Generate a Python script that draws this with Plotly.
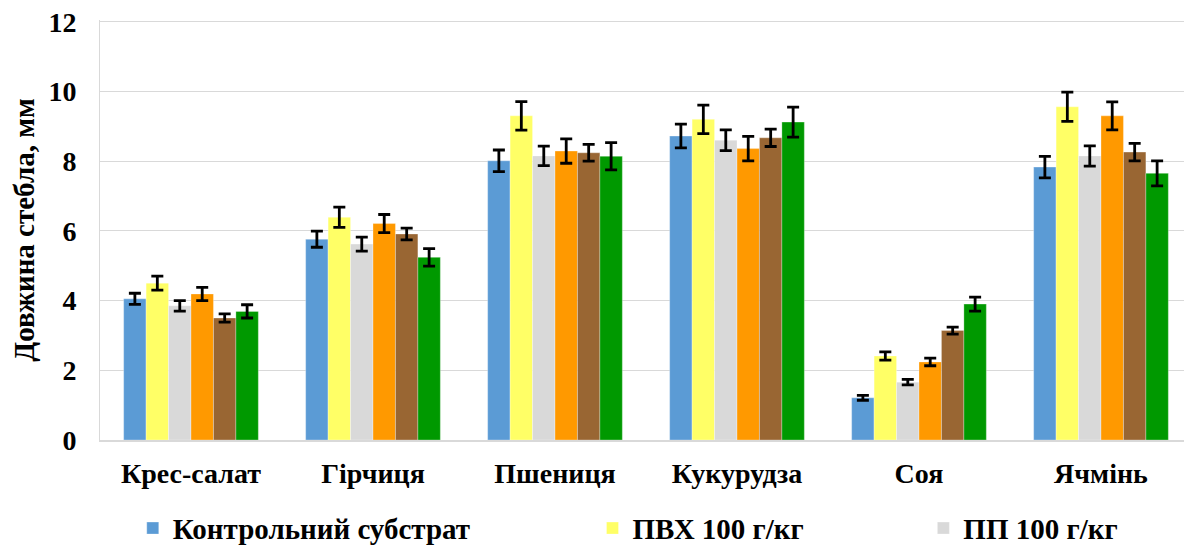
import plotly.graph_objects as go

categories = ["Крес-салат", "Гірчиця", "Пшениця", "Кукурудза", "Соя", "Ячмінь"]
series_names = ["Контрольний субстрат", "ПВХ 100 г/кг", "ПП 100 г/кг",
                "Серія 4", "Серія 5", "Серія 6"]
colors = ["#5B9BD5", "#FFFF66", "#D9D9D9", "#FF9900", "#996633", "#009900"]

control = [4.05, 5.76, 8.01, 8.72, 1.21, 7.83]
pvc = [4.50, 6.39, 9.30, 9.20, 2.41, 9.56]
pp = [3.85, 5.62, 8.15, 8.60, 1.66, 8.15]
s4 = [4.19, 6.21, 8.29, 8.36, 2.24, 9.30]
s5 = [3.50, 5.91, 8.24, 8.67, 3.14, 8.26]
s6 = [3.69, 5.24, 8.14, 9.12, 3.90, 7.65]

err_control = [0.16, 0.23, 0.31, 0.34, 0.07, 0.31]
err_pvc = [0.20, 0.29, 0.41, 0.41, 0.12, 0.42]
err_pp = [0.15, 0.20, 0.28, 0.30, 0.08, 0.29]
err_s4 = [0.19, 0.26, 0.35, 0.35, 0.11, 0.40]
err_s5 = [0.12, 0.17, 0.24, 0.25, 0.10, 0.25]
err_s6 = [0.19, 0.25, 0.39, 0.43, 0.20, 0.36]

values = [control, pvc, pp, s4, s5, s6]
errors = [err_control, err_pvc, err_pp, err_s4, err_s5, err_s6]
legend_ids = ["legend", "legend2", "legend3", None, None, None]

FONT = "Liberation Serif, Times New Roman, serif"

fig = go.Figure()
for name, vals, errs, col, lg in zip(series_names, values, errors, colors, legend_ids):
    kw = dict(showlegend=False) if lg is None else dict(legend=lg)
    fig.add_trace(go.Bar(
        x=categories, y=vals, name=name,
        marker=dict(color=col, line=dict(color="rgba(255,255,255,0.6)", width=0.5)),
        error_y=dict(type="data", array=errs, visible=True, color="black",
                     thickness=2.8, width=6),
        **kw,
    ))

legend_font = dict(family=FONT, size=29, color="black", weight="bold")
common_leg = dict(orientation="h", yanchor="middle", y=-0.210, xanchor="left",
                  font=legend_font, bgcolor="rgba(0,0,0,0)", borderwidth=0)

fig.update_layout(
    width=1192, height=547,
    margin=dict(l=92, r=8, t=12, b=115, autoexpand=False),
    paper_bgcolor="white", plot_bgcolor="white",
    barmode="group", bargap=0.26, bargroupgap=0,
    font=dict(family=FONT, color="black"),
    legend=dict(x=0.030, **common_leg),
    legend2=dict(x=0.451, **common_leg),
    legend3=dict(x=0.754, **common_leg),
    xaxis=dict(
        showgrid=False, showline=True, linecolor="#D9D9D9", linewidth=1.5,
        tickfont=dict(family=FONT, size=28, color="black", weight="bold"),
        ticks="", ticklabelstandoff=8, automargin=False,
    ),
    yaxis=dict(
        range=[0, 12.05], tickvals=[0, 2, 4, 6, 8, 10, 12],
        showgrid=True, gridcolor="#D9D9D9", gridwidth=1.3,
        showline=True, linecolor="#D9D9D9", linewidth=1, zeroline=False,
        tickfont=dict(family=FONT, size=28, color="black", weight="bold"),
        ticks="", ticklabelstandoff=17, automargin=False,
        ticklabeloverflow="allow",
        title=dict(text="Довжина стебла, мм",
                   font=dict(family=FONT, size=29, color="black", weight="bold"),
                   standoff=9),
    ),
)

fig.write_html("out.html")
